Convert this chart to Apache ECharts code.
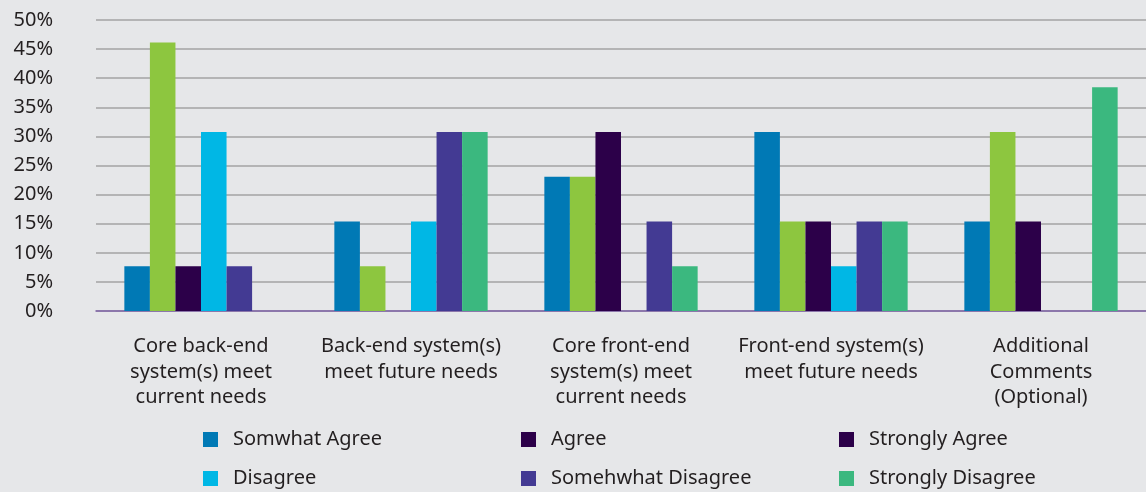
<!DOCTYPE html>
<html>
<head>
<meta charset="utf-8">
<script src="https://cdn.jsdelivr.net/npm/echarts@6/dist/echarts.min.js"></script>
<style>
  html, body { margin: 0; padding: 0; background: #e6e7e9; }
  #chart { width: 1146px; height: 492px; }
</style>
</head>
<body>
<div id="chart"></div>
<script>
// Survey questions (one bar group each)
const categories = [
  'Core back-end\nsystem(s) meet\ncurrent needs',
  'Back-end system(s)\nmeet future needs',
  'Core front-end\nsystem(s) meet\ncurrent needs',
  'Front-end system(s)\nmeet future needs',
  'Additional\nComments\n(Optional)'
];

// Share of responses per answer, in percent
const somwhatAgree      = [7.69, 15.38, 23.08, 30.77, 15.38];
const agree             = [46.15, 7.69, 23.08, 15.38, 30.77];
const stronglyAgree     = [7.69, 0, 30.77, 15.38, 15.38];
const disagree          = [30.77, 15.38, 0, 7.69, 0];
const somehwhatDisagree = [7.69, 30.77, 15.38, 15.38, 0];
const stronglyDisagree  = [0, 30.77, 7.69, 15.38, 38.46];

const seriesNames = ['Somwhat Agree', 'Agree', 'Strongly Agree', 'Disagree', 'Somehwhat Disagree', 'Strongly Disagree'];
const seriesData = [somwhatAgree, agree, stronglyAgree, disagree, somehwhatDisagree, stronglyDisagree];
const seriesColors = ['#0079b5', '#8dc63f', '#2c0049', '#00b7e5', '#433a93', '#3bb87f'];
// legend swatches (the "Agree" key is shown in dark purple)
const legendColors = ['#0079b5', '#2c0049', '#2c0049', '#00b7e5', '#433a93', '#3bb87f'];

const FONT = '"Noto Sans", "Open Sans", sans-serif';
const TEXT = '#231f20';

const chart = echarts.init(document.getElementById('chart'));
chart.setOption({
  backgroundColor: '#e6e7e9',
  animation: false,
  textStyle: { fontFamily: FONT },
  grid: { left: 96, right: -5, top: 20, bottom: 181, containLabel: false },
  legend: {
    left: 198,
    top: 424,
    width: 960,
    orient: 'horizontal',
    itemWidth: 15,
    itemHeight: 15,
    itemGap: 18,
    icon: 'rect',
    selectedMode: false,
    textStyle: {
      fontFamily: FONT, fontSize: 20, color: TEXT,
      width: 270, lineHeight: 21, padding: [0, 0, 0, 10]
    },
    data: seriesNames.map((n, i) => ({ name: n, itemStyle: { color: legendColors[i] } }))
  },
  xAxis: {
    type: 'category',
    data: categories,
    axisTick: { show: false },
    axisLine: { show: true, lineStyle: { color: '#7f63a8', width: 1.5 } },
    axisLabel: {
      interval: 0, margin: 23, fontFamily: FONT, fontSize: 20, color: TEXT,
      lineHeight: 25.5, align: 'center'
    }
  },
  yAxis: {
    type: 'value',
    min: 0, max: 50, interval: 5,
    axisLine: { show: false },
    axisTick: { show: false },
    splitLine: { show: true, lineStyle: { color: '#a3a3a3', width: 1.5 } },
    axisLabel: {
      formatter: '{value}%', margin: 43, fontFamily: FONT, fontSize: 20, color: TEXT
    }
  },
  series: seriesNames.map((n, i) => ({
    name: n,
    type: 'bar',
    data: seriesData[i],
    barGap: '0%',
    barCategoryGap: '27%',
    itemStyle: { color: seriesColors[i] }
  }))
});
</script>
</body>
</html>
